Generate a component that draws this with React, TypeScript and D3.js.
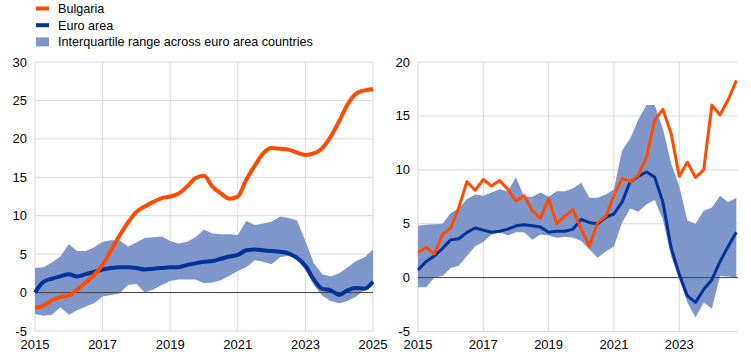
import React from "react";
import * as d3 from "d3";

// Quarterly data, 2015 Q1 onwards
const leftBulgaria = [-2.0, -1.7, -1.0, -0.6, -0.4, 0.4, 1.3, 2.3, 3.6, 5.5, 7.4, 9.1, 10.5, 11.2, 11.8, 12.3, 12.5, 12.9, 13.8, 14.9, 15.2, 13.8, 12.9, 12.2, 12.5, 14.7, 16.5, 18.1, 18.8, 18.7, 18.6, 18.2, 17.9, 18.1, 18.8, 20.3, 22.3, 24.5, 25.9, 26.3, 26.5];
const leftEuro = [0.0, 1.4, 1.8, 2.1, 2.4, 2.1, 2.4, 2.7, 3.0, 3.2, 3.3, 3.3, 3.2, 3.0, 3.1, 3.2, 3.3, 3.3, 3.6, 3.8, 4.0, 4.1, 4.4, 4.7, 4.9, 5.5, 5.6, 5.5, 5.4, 5.3, 5.1, 4.5, 3.5, 1.7, 0.5, 0.3, -0.3, 0.3, 0.6, 0.5, 1.4];
const leftUpper = [3.2, 3.3, 3.9, 4.7, 6.3, 5.4, 5.4, 5.9, 6.6, 6.8, 6.8, 6.0, 6.5, 7.1, 7.2, 7.3, 6.7, 6.4, 6.6, 7.2, 8.2, 7.7, 7.6, 7.6, 7.5, 9.3, 8.8, 9.0, 9.2, 9.9, 9.7, 9.4, 6.7, 3.8, 2.4, 2.1, 2.5, 3.3, 4.1, 4.6, 5.6];
const leftLower = [-2.8, -3.0, -2.9, -1.9, -2.9, -2.3, -1.8, -1.4, -0.5, -0.3, -0.1, 1.0, 1.1, 0.0, 0.4, 1.0, 1.5, 1.7, 1.7, 1.7, 1.2, 1.3, 1.6, 2.2, 2.8, 3.3, 4.2, 4.0, 3.7, 4.6, 4.8, 4.3, 2.9, 1.0, -0.4, -1.1, -1.4, -1.1, -0.5, 0.3, 1.0];

const rightBulgaria = [2.3, 2.8, 2.2, 4.0, 4.6, 6.5, 8.9, 8.1, 9.1, 8.5, 9.0, 8.2, 7.1, 7.6, 6.2, 5.5, 7.3, 5.0, 5.7, 6.3, 4.5, 2.9, 5.1, 5.7, 7.6, 9.2, 8.9, 9.5, 11.2, 14.6, 15.6, 13.4, 9.4, 10.7, 9.3, 10.0, 16.0, 15.1, 16.5, 18.3];
const rightEuro = [0.7, 1.5, 2.0, 2.7, 3.5, 3.6, 4.2, 4.6, 4.4, 4.2, 4.3, 4.5, 4.8, 4.9, 4.8, 4.7, 4.2, 4.3, 4.3, 4.5, 5.4, 5.1, 5.0, 5.6, 5.9, 7.0, 8.9, 9.4, 9.8, 9.3, 7.0, 2.8, 0.3, -1.7, -2.3, -1.1, -0.2, 1.5, 2.9, 4.2];
const rightUpper = [4.8, 4.9, 4.95, 5.0, 6.0, 6.4, 7.3, 7.7, 7.6, 7.9, 8.2, 8.0, 9.3, 7.5, 7.5, 7.9, 7.5, 8.0, 8.0, 8.3, 8.8, 7.4, 7.4, 7.7, 8.2, 11.8, 12.9, 14.7, 16.0, 16.0, 13.8, 10.6, 8.5, 5.3, 5.0, 6.2, 6.5, 7.6, 7.0, 7.4];
const rightLower = [-0.9, -0.9, 0.0, 0.15, 0.9, 1.1, 2.0, 2.9, 3.3, 4.0, 4.2, 3.9, 4.2, 4.2, 3.5, 4.0, 3.9, 3.7, 3.8, 3.7, 3.4, 2.6, 1.85, 2.4, 2.9, 5.1, 6.4, 6.1, 6.8, 7.2, 5.4, 2.0, -0.1, -2.3, -3.7, -2.3, -2.9, 0.15, 0.1, 0.0];

const leftYearTicks = [2015, 2017, 2019, 2021, 2023, 2025];
const rightYearTicks = [2015, 2017, 2019, 2021, 2023];
const leftValueTicks = [-5, 0, 5, 10, 15, 20, 25, 30];
const rightValueTicks = [-5, 0, 5, 10, 15, 20];

const legendItems = [
  { label: "Bulgaria", kind: "line", color: "#FF4B00" },
  { label: "Euro area", kind: "line", color: "#003299" },
  { label: "Interquartile range across euro area countries", kind: "rect", color: "#7F96CB" },
];

const ORANGE = "#FF4B00";
const BLUE = "#003299";
const BAND = "#7F96CB";
const GRID = "#D9D9D9";
const FONT = "'Liberation Sans', Arial, sans-serif";

type PanelProps = {
  x: d3.ScaleLinear<number, number>;
  y: d3.ScaleLinear<number, number>;
  bg: number[];
  eu: number[];
  up: number[];
  lo: number[];
  years: number[];
  values: number[];
  lineWidth: number;
  smooth: boolean;
  gridRight: number;
};

function Panel({ x, y, bg, eu, up, lo, years, values, lineWidth, smooth, gridRight }: PanelProps) {
  const idx = bg.map((_, i) => i);
  const area = d3
    .area<number>()
    .x((i) => x(i))
    .y0((i) => y(lo[i]))
    .y1((i) => y(up[i]));
  const curve = smooth ? d3.curveMonotoneX : d3.curveLinear;
  const line = (arr: number[]) =>
    d3
      .line<number>()
      .x((i) => x(i))
      .y((i) => y(arr[i]))
      .curve(curve)(arr.map((_, i) => i)) || "";
  const x0 = x(0);
  const yTop = y(values[values.length - 1]);
  const yBot = y(values[0]);
  return (
    <g>
      {values.map((v) => (
        <line key={"h" + v} x1={x0} x2={gridRight} y1={y(v)} y2={y(v)} stroke={GRID} strokeWidth={1} />
      ))}
      {years.map((yr) => (
        <line key={"v" + yr} x1={x((yr - 2015) * 4)} x2={x((yr - 2015) * 4)} y1={yTop} y2={yBot} stroke={GRID} strokeWidth={1} />
      ))}
      <path d={area(idx) || ""} fill={BAND} />
      <line x1={x0} x2={gridRight} y1={y(0)} y2={y(0)} stroke="#404040" strokeWidth={1} />
      <path d={line(eu)} fill="none" stroke={BLUE} strokeWidth={lineWidth} strokeLinejoin="round" />
      <path d={line(bg)} fill="none" stroke={ORANGE} strokeWidth={lineWidth} strokeLinejoin="round" />
      {values.map((v) => (
        <text key={"yl" + v} x={x0 - 8} y={y(v) + 4.5} textAnchor="end" fontSize={13} fontFamily={FONT} fill="#000">
          {v}
        </text>
      ))}
      {years.map((yr) => (
        <text key={"xl" + yr} x={x((yr - 2015) * 4)} y={349} textAnchor="middle" fontSize={13} fontFamily={FONT} fill="#000">
          {yr}
        </text>
      ))}
    </g>
  );
}

export default function App() {
  const xL = d3.scaleLinear().domain([0, 40]).range([35, 373]);
  const yL = d3.scaleLinear().domain([-5, 30]).range([331, 62]);
  const xR = d3.scaleLinear().domain([0, 39.2]).range([418, 738]);
  const yR = d3.scaleLinear().domain([-5, 20]).range([331.5, 62]);
  return (
    <svg width={751} height={358} style={{ position: "absolute", left: 0, top: 0, background: "#fff" }}>
      <rect width={751} height={358} fill="#fff" />
      {legendItems.map((it, i) => {
        const cy = 8.5 + i * 16.7;
        return (
          <g key={it.label}>
            {it.kind === "line" ? (
              <rect x={36} y={cy - 2} width={13} height={4} fill={it.color} />
            ) : (
              <rect x={36} y={cy - 4.5} width={13} height={9} fill={it.color} />
            )}
            <text x={58} y={cy + 4.5} fontSize={12.6} fontFamily={FONT} fill="#000">
              {it.label}
            </text>
          </g>
        );
      })}
      <Panel x={xL} y={yL} bg={leftBulgaria} eu={leftEuro} up={leftUpper} lo={leftLower} years={leftYearTicks} values={leftValueTicks} lineWidth={4} smooth={true} gridRight={373} />
      <Panel x={xR} y={yR} bg={rightBulgaria} eu={rightEuro} up={rightUpper} lo={rightLower} years={rightYearTicks} values={rightValueTicks} lineWidth={3} smooth={false} gridRight={738} />
    </svg>
  );
}
